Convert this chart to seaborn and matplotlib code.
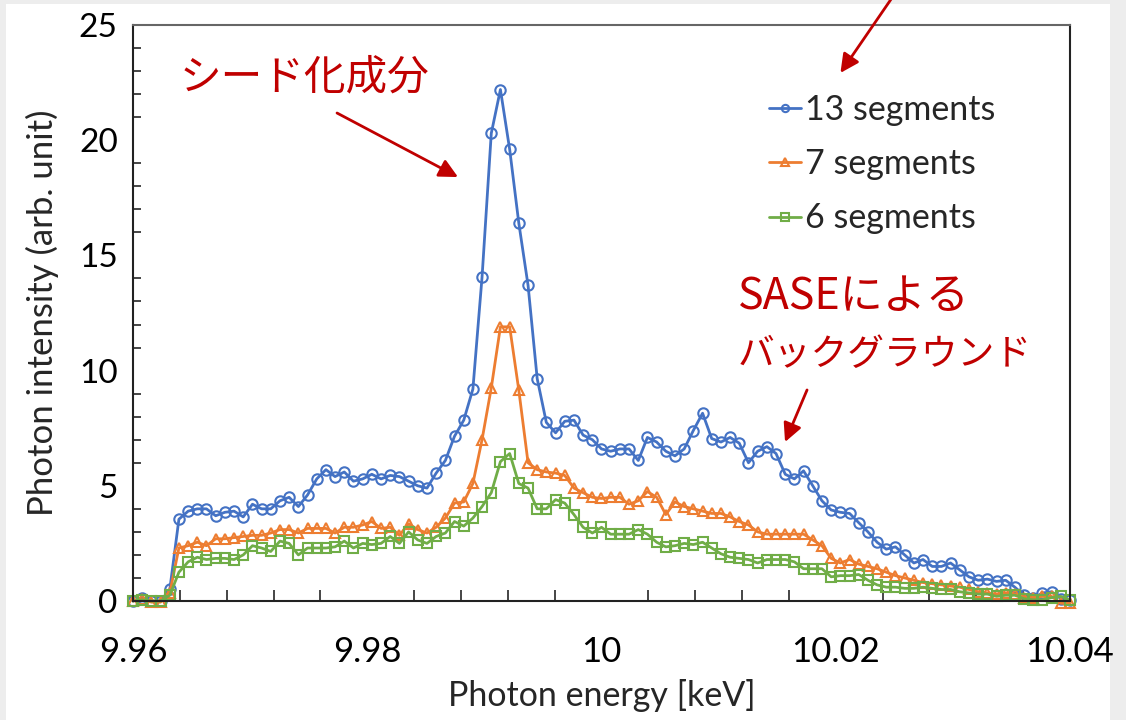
import numpy as np
import pandas as pd
import matplotlib
matplotlib.use('Agg')
import matplotlib.pyplot as plt
import seaborn as sns
from matplotlib.patches import Rectangle
from matplotlib.ticker import MultipleLocator

# photon energy grid [keV]
energy = [
    9.96000, 9.96078, 9.96157, 9.96235, 9.96314, 9.96392, 9.96471, 9.96549, 9.96627, 9.96706,
    9.96784, 9.96863, 9.96941, 9.97020, 9.97098, 9.97176, 9.97255, 9.97333, 9.97412, 9.97490,
    9.97569, 9.97647, 9.97725, 9.97804, 9.97882, 9.97961, 9.98039, 9.98118, 9.98196, 9.98275,
    9.98353, 9.98431, 9.98510, 9.98588, 9.98667, 9.98745, 9.98824, 9.98902, 9.98980, 9.99059,
    9.99137, 9.99216, 9.99294, 9.99373, 9.99451, 9.99529, 9.99608, 9.99686, 9.99765, 9.99843,
    9.99922, 10.00000, 10.00078, 10.00157, 10.00235, 10.00314, 10.00392, 10.00471, 10.00549, 10.00627,
    10.00706, 10.00784, 10.00863, 10.00941, 10.01020, 10.01098, 10.01176, 10.01255, 10.01333, 10.01412,
    10.01490, 10.01569, 10.01647, 10.01725, 10.01804, 10.01882, 10.01961, 10.02039, 10.02118, 10.02196,
    10.02275, 10.02353, 10.02431, 10.02510, 10.02588, 10.02667, 10.02745, 10.02824, 10.02902, 10.02980,
    10.03059, 10.03137, 10.03216, 10.03294, 10.03373, 10.03451, 10.03529, 10.03608, 10.03686, 10.03765,
    10.03843, 10.03922, 10.04000,
]

seg13 = [
    0.0, 0.15, 0.0, 0.0, 0.5, 3.55, 3.9, 4.0, 4.0, 3.7,
    3.85, 3.9, 3.65, 4.2, 4.0, 4.0, 4.35, 4.5, 4.1, 4.6,
    5.3, 5.7, 5.4, 5.6, 5.2, 5.3, 5.5, 5.3, 5.45, 5.4,
    5.2, 5.0, 4.9, 5.55, 6.1, 7.15, 7.85, 9.2, 14.05, 20.3,
    22.2, 19.6, 16.4, 13.7, 9.65, 7.75, 7.3, 7.8, 7.85, 7.2,
    7.0, 6.6, 6.5, 6.6, 6.6, 6.1, 7.1, 6.9, 6.5, 6.3,
    6.6, 7.4, 8.15, 7.05, 6.9, 7.1, 6.85, 6.0, 6.5, 6.7,
    6.4, 5.5, 5.3, 5.65, 5.0, 4.35, 3.95, 3.85, 3.8, 3.4,
    3.0, 2.55, 2.25, 2.35, 2.0, 1.65, 1.8, 1.5, 1.5, 1.65,
    1.35, 1.05, 0.9, 0.95, 0.85, 0.9, 0.6, 0.25, 0.12, 0.35,
    0.4, 0.1, 0.05,
]

seg7 = [
    0.0, 0.1, -0.05, -0.05, 0.35, 2.3, 2.4, 2.55, 2.4, 2.7,
    2.7, 2.75, 2.8, 2.85, 2.85, 2.95, 3.1, 3.1, 2.95, 3.15,
    3.15, 3.15, 2.95, 3.2, 3.2, 3.3, 3.45, 3.15, 3.2, 2.85,
    3.35, 3.1, 2.95, 3.2, 3.6, 4.25, 4.3, 5.1, 7.0, 9.25,
    11.9, 11.9, 9.15, 6.0, 5.7, 5.6, 5.55, 5.45, 4.9, 4.7,
    4.5, 4.45, 4.5, 4.5, 4.2, 4.35, 4.75, 4.5, 3.75, 4.3,
    4.1, 4.0, 3.9, 3.8, 3.8, 3.65, 3.45, 3.3, 3.0, 2.9,
    2.9, 2.9, 2.9, 2.9, 2.65, 2.4, 1.85, 1.65, 1.8, 1.6,
    1.5, 1.4, 1.25, 1.1, 1.0, 0.9, 0.8, 0.75, 0.7, 0.65,
    0.6, 0.5, 0.4, 0.35, 0.3, 0.35, 0.3, 0.15, 0.15, 0.2,
    0.2, -0.1, -0.1,
]

seg6 = [
    0.0, 0.05, 0.0, 0.0, 0.25, 1.25, 1.7, 1.9, 1.8, 1.85,
    1.85, 1.8, 2.0, 2.4, 2.3, 2.15, 2.6, 2.5, 2.0, 2.3,
    2.3, 2.3, 2.35, 2.6, 2.3, 2.5, 2.45, 2.5, 2.8, 2.5,
    3.0, 2.65, 2.5, 2.8, 2.95, 3.45, 3.25, 3.6, 4.1, 4.7,
    6.05, 6.4, 5.1, 4.9, 4.0, 4.0, 4.4, 4.25, 3.75, 3.2,
    2.95, 3.2, 2.9, 2.9, 2.9, 3.1, 2.9, 2.55, 2.35, 2.4,
    2.5, 2.45, 2.55, 2.3, 2.05, 1.9, 1.85, 1.8, 1.65, 1.8,
    1.8, 1.8, 1.7, 1.4, 1.4, 1.4, 1.05, 1.1, 1.1, 1.15,
    0.9, 0.7, 0.6, 0.6, 0.55, 0.55, 0.6, 0.55, 0.5, 0.5,
    0.4, 0.35, 0.3, 0.3, 0.2, 0.25, 0.25, 0.1, 0.05, 0.05,
    0.15, 0.2, 0.05,
]

series_labels = ['13 segments', '7 segments', '6 segments']
series_colors = ['#4472C4', '#ED7D31', '#70AD47']
series_markers = ['o', '^', 's']

sns.set_theme(style='white')
plt.rcParams['font.family'] = ['Lato', 'Noto Sans CJK JP', 'DejaVu Sans']

fig = plt.figure(figsize=(11.26, 7.2), dpi=100, facecolor='#ededed')
# white slide panel behind the chart
fig.patches.append(Rectangle((6 / 1126, 0), 1104 / 1126, 716 / 720,
                             transform=fig.transFigure, facecolor='white',
                             edgecolor='none', zorder=-10))
ax = fig.add_axes([133 / 1126, 1 - 601 / 720, 937 / 1126, 576 / 720])
ax.set_facecolor('white')

for vals, lab, col, mk in zip([seg13, seg7, seg6], series_labels, series_colors, series_markers):
    df = pd.DataFrame({'energy': energy, 'intensity': vals})
    sns.lineplot(data=df, x='energy', y='intensity', ax=ax, color=col, label=lab,
                 marker=mk, markersize=7.5, markerfacecolor='none', markeredgecolor=col,
                 markeredgewidth=1.5, linewidth=2, clip_on=False)

ax.set_xlim(9.96, 10.04)
ax.set_ylim(0, 25)
ax.set_xticks([9.96, 9.98, 10.0, 10.02, 10.04])
ax.set_xticklabels(['9.96', '9.98', '10', '10.02', '10.04'])
ax.xaxis.set_minor_locator(MultipleLocator(0.004))
ax.set_yticks([0, 5, 10, 15, 20, 25])
ax.yaxis.set_minor_locator(MultipleLocator(1))

ax.tick_params(axis='x', which='major', direction='inout', length=16, width=1.2,
               labelsize=25, pad=17, colors='black')
ax.tick_params(axis='x', which='minor', direction='in', length=8, width=1.2, bottom=True)
ax.tick_params(axis='y', which='major', direction='inout', length=14, width=1.2,
               labelsize=24, pad=4, colors='black')
ax.tick_params(axis='y', which='minor', direction='in', length=6, width=1.2, left=True)

for side in ['left', 'bottom', 'right', 'top']:
    ax.spines[side].set_visible(True)
    ax.spines[side].set_color('#222222')
    ax.spines[side].set_linewidth(1.5)
ax.spines['top'].set_color('#666666')

ax.set_xlabel('Photon energy [keV]', fontsize=24.5, labelpad=8)
ax.set_ylabel('Photon intensity (arb. unit)', fontsize=25, labelpad=14)

leg = ax.legend(loc='upper left', bbox_to_anchor=(0.646, 0.933), frameon=False,
                fontsize=24.5, handlelength=0.95, handletextpad=0.1, labelspacing=0.65,
                markerscale=0.7)

red = '#C00000'
ax.text(9.96401, 22.7, 'シード化成分', color=red, fontsize=30, va='center', ha='left',
        family=['Noto Sans CJK JP', 'DejaVu Sans'])
ax.annotate('', xy=(9.98775, 18.40), xytext=(9.97742, 21.18),
            arrowprops=dict(arrowstyle='-|>', color=red, lw=2, mutation_scale=28,
                            shrinkA=0, shrinkB=0))
ax.text(10.01166, 13.2, 'SASEによる', color=red, fontsize=31, va='center', ha='left',
        family=['Noto Sans CJK JP', 'DejaVu Sans'])
ax.text(10.01166, 10.7, 'バックグラウンド', color=red, fontsize=26.5, va='center', ha='left',
        family=['Noto Sans CJK JP', 'DejaVu Sans'])
ax.annotate('', xy=(10.01567, 6.90), xytext=(10.01755, 9.16),
            arrowprops=dict(arrowstyle='-|>', color=red, lw=2, mutation_scale=28,
                            shrinkA=0, shrinkB=0))
ax.annotate('', xy=(10.0204, 22.92), xytext=(10.0251, 26.4), annotation_clip=False,
            arrowprops=dict(arrowstyle='-|>', color=red, lw=2, mutation_scale=28,
                            shrinkA=0, shrinkB=0))

fig.savefig('out.png', dpi=100, facecolor=fig.get_facecolor())
